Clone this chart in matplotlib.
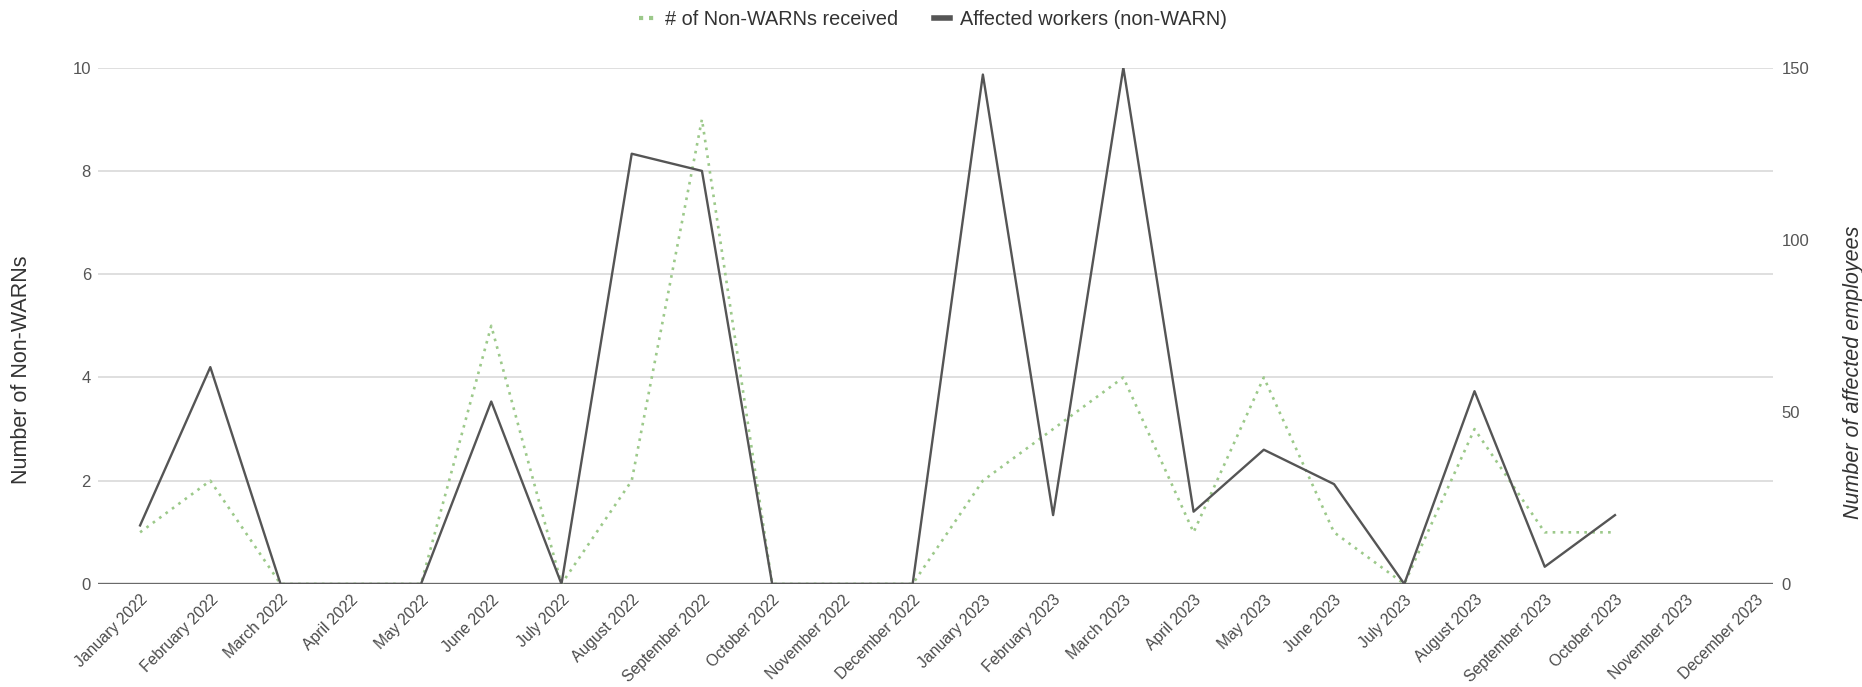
import matplotlib
matplotlib.use("Agg")
import matplotlib.pyplot as plt
import numpy as np
from matplotlib.lines import Line2D

plt.rcParams['font.family'] = ['Liberation Sans', 'DejaVu Sans']

months = ["January 2022", "February 2022", "March 2022", "April 2022", "May 2022",
          "June 2022", "July 2022", "August 2022", "September 2022", "October 2022",
          "November 2022", "December 2022", "January 2023", "February 2023",
          "March 2023", "April 2023", "May 2023", "June 2023", "July 2023",
          "August 2023", "September 2023", "October 2023", "November 2023",
          "December 2023"]

# Non-WARN notices received per month (left axis); no data for Nov/Dec 2023
non_warns = [1, 2, 0, 0, 0, 5, 0, 2, 9, 0, 0, 0,
             2, 3, 4, 1, 4, 1, 0, 3, 1, 1, None, None]

# Workers affected by non-WARN layoffs (right axis)
affected = [17, 63, 0, 0, 0, 53, 0, 125, 120, 0, 0, 0,
            148, 20, 150, 21, 39, 29, 0, 56, 5, 20, None, None]

left_ticks = [0, 2, 4, 6, 8, 10]
right_ticks = [0, 50, 100, 150]

green = "#9cc98a"
dark = "#555555"
grid_c = "#dcdcdc"
tick_c = "#555555"
label_c = "#333333"

fig = plt.figure(figsize=(18.62, 6.87), dpi=100)
ax = fig.add_axes([0.0526, 0.150, 0.8996, 0.7515])
ax2 = ax.twinx()

x = np.arange(len(months))
nw = np.array([np.nan if v is None else v for v in non_warns], dtype=float)
af = np.array([np.nan if v is None else v for v in affected], dtype=float)

ax.plot(x, nw, color=green, lw=1.9, linestyle=(0, (1, 2.0)), zorder=3)
ax2.plot(x, af, color=dark, lw=1.7, zorder=4)

ax.set_ylim(0, 10)
ax2.set_ylim(0, 150)
ax.set_xlim(-0.6, 23.25)
ax.set_yticks(left_ticks)
ax2.set_yticks(right_ticks)

ax.grid(axis='y', color=grid_c, lw=1.3)
ax.set_axisbelow(True)
ax.axhline(0, color="#6a6a6a", lw=2.4, zorder=2)

for a in (ax, ax2):
    for s in a.spines.values():
        s.set_visible(False)
    a.tick_params(length=0, colors=tick_c, labelsize=12)

ax.tick_params(axis='y', pad=5)
ax2.tick_params(axis='y', pad=6)

ax.set_xticks(x)
ax.set_xticklabels(months, rotation=45, ha='right', rotation_mode='anchor',
                   fontsize=11.3, color="#4a4a4a")
ax.tick_params(axis='x', pad=6)

ax.set_ylabel("Number of Non-WARNs", fontsize=15.5, color=label_c)
ax.yaxis.set_label_coords(-0.0394, 0.415)
ax2.set_ylabel("Number of affected employees", fontsize=15.5, color=label_c,
               style='italic')
ax2.yaxis.set_label_coords(1.0418, 0.41)

handles = [
    Line2D([], [], color=green, lw=3.0, linestyle=(0, (1, 1.4))),
    Line2D([], [], color=dark, lw=4.0),
]
fig.legend(handles, ["# of Non-WARNs received", "Affected workers (non-WARN)"],
           loc='center', bbox_to_anchor=(0.501, 0.971), ncol=2, frameon=False,
           fontsize=14.3, handlelength=0.8, handletextpad=0.5, columnspacing=1.8,
           labelcolor=label_c)

fig.savefig("out.png", dpi=100, facecolor="white")
